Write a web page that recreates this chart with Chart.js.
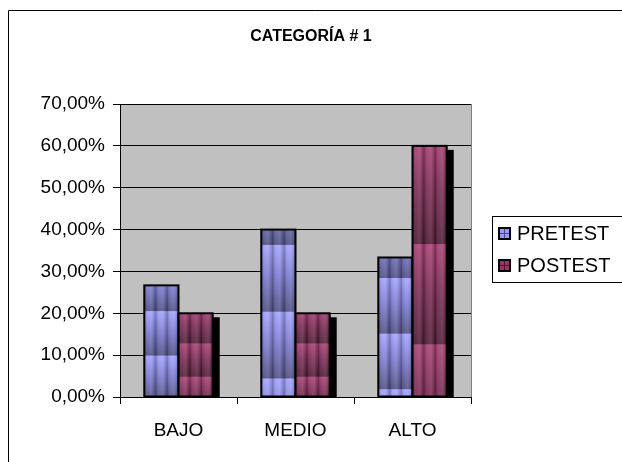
<!DOCTYPE html>
<html>
<head>
<meta charset="utf-8">
<script src="https://cdn.jsdelivr.net/npm/chart.js@4/dist/chart.umd.min.js"></script>
<style>
  html, body { margin: 0; padding: 0; background: #fff; }
  #wrap { width: 622px; height: 462px; position: relative; }
</style>
</head>
<body>
<div id="wrap"><canvas id="c" width="622" height="462"></canvas></div>
<script>
// ---- data ----
const chartTitle = 'CATEGORÍA # 1';
const categories = ['BAJO', 'MEDIO', 'ALTO'];
const seriesNames = ['PRETEST', 'POSTEST'];
const pretest = [26.67, 40.00, 33.33];
const postest = [20.00, 20.00, 60.00];
const yTickValues = [0, 10, 20, 30, 40, 50, 60, 70];

// ---- styling ----
const FONT = "'Liberation Sans', Arial, sans-serif";
const seriesStyle = [
  { base: '#9999ff', light: '#a0a0ff', mid: '#7878d0', dark: '#4a4a80', phase: [0.232, 0.092, 0.148] },
  { base: '#993366', light: '#a63b70', mid: '#782650', dark: '#4a1630', phase: [0.362, 0.362, 0.392] }
];

Chart.defaults.font.family = FONT;
Chart.defaults.color = '#000';

function barRect(el) {
  const p = el.getProps(['x', 'y', 'base', 'width'], true);
  const left = p.x - p.width / 2;
  const top = Math.min(p.y, p.base);
  const bottom = Math.max(p.y, p.base);
  return { left, top, w: p.width, h: bottom - top, bottom };
}

const excelPlugin = {
  id: 'excelLook',
  beforeDraw(chart) {
    const ctx = chart.ctx, a = chart.chartArea;
    ctx.save();
    ctx.fillStyle = '#fff';
    ctx.fillRect(0, 0, chart.width, chart.height);
    // outer chart border (left and top visible)
    ctx.strokeStyle = '#000';
    ctx.lineWidth = 1;
    ctx.beginPath();
    ctx.moveTo(8.5, chart.height + 2);
    ctx.lineTo(8.5, 10.5);
    ctx.lineTo(chart.width + 2, 10.5);
    ctx.stroke();
    // plot area
    ctx.fillStyle = '#c0c0c0';
    ctx.fillRect(a.left, a.top, a.right - a.left, a.bottom - a.top);
    ctx.restore();
  },
  beforeDatasetsDraw(chart) {
    const ctx = chart.ctx, a = chart.chartArea;
    ctx.save();
    ctx.beginPath();
    ctx.rect(a.left, a.top, a.right - a.left, a.bottom - a.top);
    ctx.clip();
    ctx.fillStyle = '#000';
    const meta = chart.getDatasetMeta(1);
    meta.data.forEach(el => {
      const r = barRect(el);
      ctx.fillRect(r.left - 1 + 6, r.top - 1 + 5, r.w + 2, r.h + 2);
    });
    ctx.restore();
  },
  afterDatasetsDraw(chart) {
    const ctx = chart.ctx, a = chart.chartArea;
    chart.data.datasets.forEach((ds, di) => {
      const st = seriesStyle[di];
      const meta = chart.getDatasetMeta(di);
      meta.data.forEach((el, i) => {
        const r = barRect(el);
        if (r.h <= 0) return;
        ctx.save();
        ctx.beginPath();
        ctx.rect(r.left, r.top, r.w, r.h);
        ctx.clip();
        const P = 0.4 * r.h;
        let y0 = r.top + st.phase[i] * r.h - P;
        for (; y0 < r.bottom; y0 += P) {
          const g = ctx.createLinearGradient(0, y0, 0, y0 + P);
          g.addColorStop(0, st.light);
          g.addColorStop(0.45, st.mid);
          g.addColorStop(1, st.dark);
          ctx.fillStyle = g;
          ctx.fillRect(r.left, y0, r.w, P + 0.5);
        }
        const n = 3, sw = r.w / n;
        for (let k = 0; k < n; k++) {
          const x0 = r.left + k * sw;
          const g = ctx.createLinearGradient(x0, 0, x0 + sw, 0);
          g.addColorStop(0, 'rgba(0,0,0,0.28)');
          g.addColorStop(0.3, 'rgba(255,255,255,0.10)');
          g.addColorStop(0.6, 'rgba(255,255,255,0.16)');
          g.addColorStop(1, 'rgba(0,0,0,0.22)');
          ctx.fillStyle = g;
          ctx.fillRect(x0, r.top, sw, r.h);
        }
        ctx.restore();
        ctx.save();
        ctx.strokeStyle = '#000';
        ctx.lineWidth = 2;
        ctx.strokeRect(r.left, r.top, r.w, r.h);
        ctx.restore();
      });
    });
    // plot area right border
    ctx.save();
    ctx.strokeStyle = '#808080';
    ctx.lineWidth = 1;
    ctx.beginPath();
    ctx.moveTo(Math.round(a.right) + 0.5, a.top);
    ctx.lineTo(Math.round(a.right) + 0.5, a.bottom);
    ctx.stroke();
    ctx.restore();
  },
  afterDraw(chart) {
    const ctx = chart.ctx;
    ctx.save();
    // title
    ctx.fillStyle = '#000';
    ctx.font = 'bold 16px ' + FONT;
    ctx.textAlign = 'center';
    ctx.textBaseline = 'middle';
    ctx.fillText(chartTitle, 311, 37);
    // legend
    ctx.strokeStyle = '#000';
    ctx.lineWidth = 1;
    ctx.strokeRect(492.5, 216.5, 140, 66);
    ctx.font = '20px ' + FONT;
    ctx.textAlign = 'left';
    chart.data.datasets.forEach((ds, di) => {
      const st = seriesStyle[di];
      const cy = 233 + di * 32;
      const s = 11, sx = 499, sy = cy - 5;
      ctx.fillStyle = st.base;
      ctx.fillRect(sx, sy, s, s);
      ctx.fillStyle = st.dark;
      ctx.fillRect(sx + s / 2 - 0.5, sy, 1, s);
      ctx.fillRect(sx, sy + s / 2 - 0.5, s, 1);
      ctx.strokeStyle = '#000';
      ctx.lineWidth = 2;
      ctx.strokeRect(sx, sy, s, s);
      ctx.fillStyle = '#000';
      ctx.textBaseline = 'middle';
      ctx.fillText(ds.label, 517, cy + 1);
    });
    ctx.restore();
  }
};

new Chart(document.getElementById('c'), {
  type: 'bar',
  data: {
    labels: categories,
    datasets: [
      { label: seriesNames[0], data: pretest, backgroundColor: seriesStyle[0].base, borderWidth: 0 },
      { label: seriesNames[1], data: postest, backgroundColor: seriesStyle[1].base, borderWidth: 0 }
    ]
  },
  options: {
    responsive: false,
    devicePixelRatio: 1,
    animation: false,
    categoryPercentage: 0.585,
    barPercentage: 1.0,
    layout: { padding: { top: 104, right: 151, left: 0, bottom: 0 } },
    plugins: {
      legend: { display: false },
      title: { display: false },
      tooltip: { enabled: false }
    },
    scales: {
      x: {
        offset: true,
        grid: { offset: true, drawOnChartArea: false, drawTicks: true, tickLength: 7, color: '#000' },
        border: { display: true, color: '#000', width: 1 },
        ticks: { font: { size: 19 }, color: '#000', padding: 15, maxRotation: 0 },
        afterFit(s) { s.height = 65; }
      },
      y: {
        min: 0, max: 70,
        afterBuildTicks(s) { s.ticks = yTickValues.map(v => ({ value: v })); },
        grid: { color: '#000', drawTicks: true, tickLength: 7 },
        border: { display: true, color: '#000', width: 1 },
        ticks: {
          font: { size: 19 }, color: '#000', padding: 8,
          callback: v => v.toFixed(2).replace('.', ',') + '%'
        },
        afterFit(s) { s.width = 120; }
      }
    }
  },
  plugins: [excelPlugin]
});
</script>
</body>
</html>
